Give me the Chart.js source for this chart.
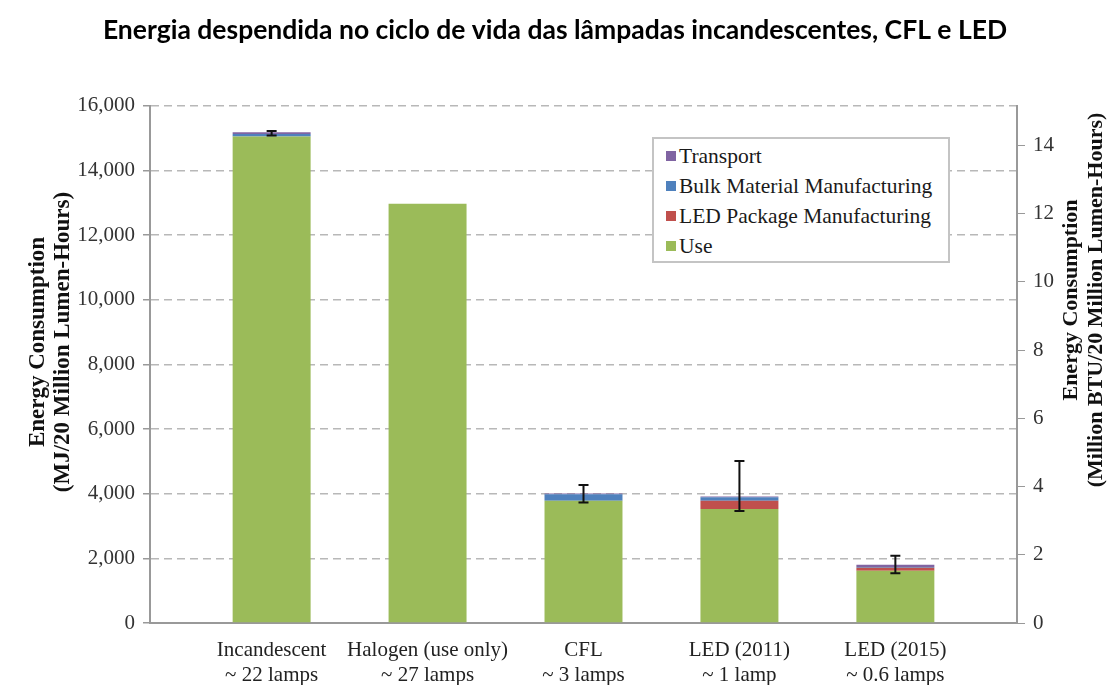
<!DOCTYPE html>
<html>
<head>
<meta charset="utf-8">
<script src="https://cdn.jsdelivr.net/npm/chart.js@4"></script>
<style>
  html, body { margin: 0; padding: 0; background: #fff; }
  #wrap { position: relative; width: 1110px; height: 685px; }
  #legend {
    position: absolute; left: 652px; top: 137px; width: 298px; height: 126px;
    border: 2px solid #c4c4c4; box-sizing: border-box; background: #fff;
    font-family: "Liberation Serif", serif; font-size: 21.5px; color: #1a1a1a;
    padding: 2px 0 0 12px;
  }
  #legend div { height: 30px; line-height: 30px; white-space: nowrap; }
  #legend span { display: inline-block; width: 10px; height: 10px; margin-right: 3px; vertical-align: 2px; }
</style>
</head>
<body>
<div id="wrap">
  <canvas id="chart" width="1110" height="685"></canvas>
  <div id="legend"></div>
</div>
<script>
// categories and stacked series (MJ / 20 million lumen-hours)
const categories = [
    ['Incandescent', '~ 22 lamps'],
    ['Halogen (use only)', '~ 27 lamps'],
    ['CFL', '~ 3 lamps'],
    ['LED (2011)', '~ 1 lamp'],
    ['LED (2015)', '~ 0.6 lamps']
];
const useVals = [15050, 12970, 3780, 3530, 1620];
const ledPackageVals = [0, 0, 0, 250, 90];
const bulkVals = [80, 0, 200, 110, 20];
const transportVals = [50, 0, 30, 20, 70];
// error bar range (low / high)
const errLow = [15080, null, 3725, 3465, 1540];
const errHigh = [15220, null, 4270, 5010, 2080];

const leftTicks = [0, 2000, 4000, 6000, 8000, 10000, 12000, 14000, 16000];
const rightTicks = [0, 2, 4, 6, 8, 10, 12, 14];
const MJ_PER_MBTU = 1055.06;

const leftTitle = ['Energy Consumption', '(MJ/20 Million Lumen-Hours)'];
const rightTitle = ['Energy Consumption', '(Million BTU/20 Million Lumen-Hours)'];

const colors = {
    use: '#9bbb59',
    led: '#c0504d',
    bulk: '#4f81bd',
    transport: '#8064a2'
};

const toPts = arr => arr.map((v, i) => ({ x: i, y: v }));

const serif = '"Liberation Serif", "Times New Roman", serif';

// legend (reverse stack order, like the original)
const legendItems = [
    ['Transport', colors.transport],
    ['Bulk Material Manufacturing', colors.bulk],
    ['LED Package Manufacturing', colors.led],
    ['Use', colors.use]
];
document.getElementById('legend').innerHTML = legendItems
    .map(([t, c]) => `<div><span style="background:${c}"></span>${t}</div>`).join('');

// error bars drawn through the chart's scales
const errorBars = {
    id: 'errorBars',
    afterDatasetsDraw(chart) {
        const { ctx, scales: { x, y } } = chart;
        ctx.save();
        ctx.strokeStyle = '#111';
        ctx.lineWidth = 2;
        errLow.forEach((lo, i) => {
            if (lo === null) return;
            const px = x.getPixelForValue(i);
            const y1 = y.getPixelForValue(lo);
            const y2 = y.getPixelForValue(errHigh[i]);
            ctx.beginPath();
            ctx.moveTo(px, y1); ctx.lineTo(px, y2);
            ctx.moveTo(px - 5, y1); ctx.lineTo(px + 5, y1);
            ctx.moveTo(px - 5, y2); ctx.lineTo(px + 5, y2);
            ctx.stroke();
        });
        ctx.restore();
    }
};

// both axis titles read bottom-to-top, as in the original
const axisTitles = {
    id: 'axisTitles',
    afterDraw(chart) {
        const { ctx } = chart;
        const drawTitle = (lines, xs, cy, size) => {
            ctx.save();
            ctx.fillStyle = '#111';
            ctx.font = 'bold ' + size + 'px ' + serif;
            ctx.textAlign = 'center';
            ctx.textBaseline = 'middle';
            lines.forEach((t, i) => {
                ctx.save();
                ctx.translate(xs[i], cy);
                ctx.rotate(-Math.PI / 2);
                ctx.fillText(t, 0, 0);
                ctx.restore();
            });
            ctx.restore();
        };
        drawTitle(leftTitle, [38, 63], 342, 23);
        drawTitle(rightTitle, [1071, 1096], 300, 22);
    }
};

new Chart(document.getElementById('chart'), {
    type: 'bar',
    data: {
        datasets: [
            { label: 'Use', data: toPts(useVals), backgroundColor: colors.use },
            { label: 'LED Package Manufacturing', data: toPts(ledPackageVals), backgroundColor: colors.led },
            { label: 'Bulk Material Manufacturing', data: toPts(bulkVals), backgroundColor: colors.bulk },
            { label: 'Transport', data: toPts(transportVals), backgroundColor: colors.transport }
        ]
    },
    options: {
        responsive: false,
        animation: false,
        barPercentage: 0.5,
        categoryPercentage: 1,
        layout: { padding: 0 },
        plugins: {
            legend: { display: false },
            tooltip: { enabled: false },
            title: {
                display: true,
                text: 'Energia despendida no ciclo de vida das lâmpadas incandescentes, CFL e LED',
                color: '#000',
                font: { family: 'Lato, sans-serif', size: 26.5, weight: 'bold', lineHeight: 1.2 },
                padding: { top: 15, bottom: 59 }
            }
        },
        scales: {
            x: {
                type: 'linear',
                stacked: true,
                offset: false,
                min: -0.78,
                max: 4.78,
                afterBuildTicks: s => { s.ticks = categories.map((_, i) => ({ value: i })); },
                afterFit: s => { s.height = 62; },
                grid: { display: false },
                border: { display: true, color: '#999', width: 2 },
                ticks: {
                    color: '#222',
                    font: { family: serif, size: 21, lineHeight: 1.2 },
                    padding: 7,
                    maxRotation: 0,
                    autoSkip: false,
                    callback: v => categories[v]
                }
            },
            y: {
                position: 'left',
                stacked: true,
                min: 0,
                max: 16000,
                afterBuildTicks: s => { s.ticks = leftTicks.map(v => ({ value: v })); },
                afterFit: s => { s.width = 150; },
                grid: {
                    color: '#b8b8b8',
                    lineWidth: 1.5,
                    tickBorderDash: [],
                    tickColor: '#999',
                    tickLength: 7
                },
                border: { display: true, color: '#999', width: 2, dash: [8, 5] },
                ticks: {
                    color: '#333',
                    font: { family: serif, size: 21 },
                    padding: 8,
                    callback: v => v.toLocaleString('en-US')
                }
            },
            y2: {
                position: 'right',
                min: 0,
                max: 16000 / MJ_PER_MBTU,
                afterBuildTicks: s => { s.ticks = rightTicks.map(v => ({ value: v })); },
                afterFit: s => { s.width = 93; },
                grid: { drawOnChartArea: false, color: '#999', tickLength: 8 },
                border: { display: true, color: '#999', width: 2 },
                ticks: {
                    color: '#333',
                    font: { family: serif, size: 21 },
                    padding: 8
                }
            }
        }
    },
    plugins: [errorBars, axisTitles]
});
</script>
</body>
</html>
